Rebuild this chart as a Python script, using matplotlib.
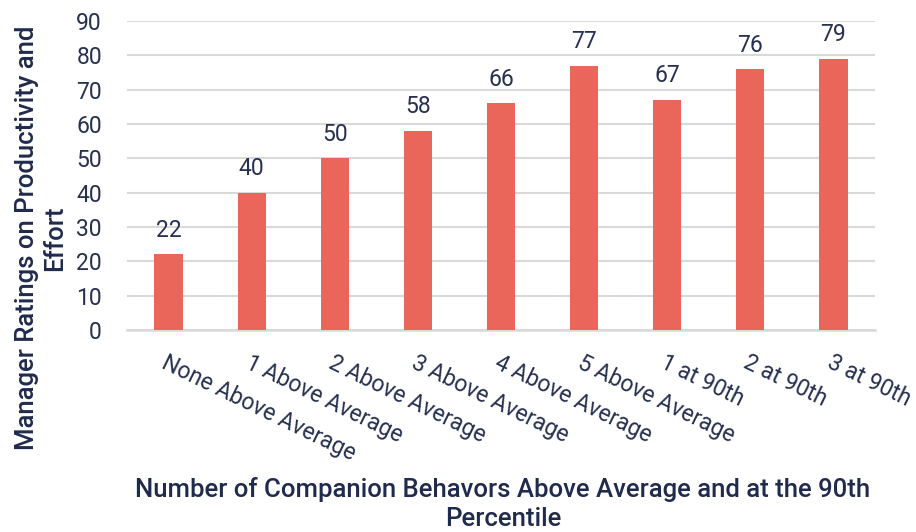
import matplotlib
matplotlib.use("Agg")
import matplotlib.pyplot as plt
import numpy as np

categories = [
    "None Above Average",
    "1 Above Average",
    "2 Above Average",
    "3 Above Average",
    "4 Above Average",
    "5 Above Average",
    "1 at 90th",
    "2 at 90th",
    "3 at 90th",
]
ratings = [22, 40, 50, 58, 66, 77, 67, 76, 79]
y_ticks = [0, 10, 20, 30, 40, 50, 60, 70, 80, 90]

bar_color = "#EA655A"
text_color = "#1F2A4C"
tick_color = "#26304F"
grid_color = "#D9D9D9"
tick_weight = "normal"

plt.rcParams["font.family"] = ["Roboto", "DejaVu Sans"]

fig = plt.figure(figsize=(9.16, 5.32), dpi=100)
ax = fig.add_axes([127 / 916, 1 - 330 / 532, 748 / 916, 309 / 532])

x = np.arange(len(categories))
bars = ax.bar(x, ratings, width=0.34, color=bar_color, zorder=3)

for xi, v in zip(x, ratings):
    ax.annotate(str(v), (xi, v), xytext=(0, 9), textcoords="offset points",
                ha="center", va="bottom", fontsize=16.5, fontweight=tick_weight,
                color=tick_color)

ax.set_xlim(-0.5, len(categories) - 0.5)
ax.set_ylim(0, 90)
ax.set_yticks(y_ticks)
ax.yaxis.grid(True, color=grid_color, linewidth=1.5, zorder=0)
ax.set_axisbelow(True)
for s in ["left", "right", "top"]:
    ax.spines[s].set_visible(False)
ax.spines["bottom"].set_color(grid_color)
ax.spines["bottom"].set_linewidth(1.8)

ax.tick_params(axis="y", length=0, pad=18, labelsize=16.5, labelcolor=tick_color)
for lbl in ax.get_yticklabels():
    lbl.set_fontweight(tick_weight)

ax.set_xticks(x)
ax.set_xticklabels(categories, rotation=-26, ha="left", va="top",
                   rotation_mode="anchor", fontsize=16.5, fontweight=tick_weight,
                   color=tick_color)
ax.tick_params(axis="x", length=0, pad=15)

fig.text(503 / 916, 1 - 504 / 532,
         "Number of Companion Behavors Above Average and at the 90th\nPercentile",
         ha="center", va="center", fontsize=18.5, fontweight="medium",
         color=text_color, linespacing=1.25)
fig.text(41 / 916, 1 - 238 / 532,
         "Manager Ratings on Productivity and\nEffort",
         ha="center", va="center", rotation=90, fontsize=18.5, fontweight="medium",
         color=text_color, linespacing=1.24, multialignment="center")

fig.savefig("out.png", dpi=100)
